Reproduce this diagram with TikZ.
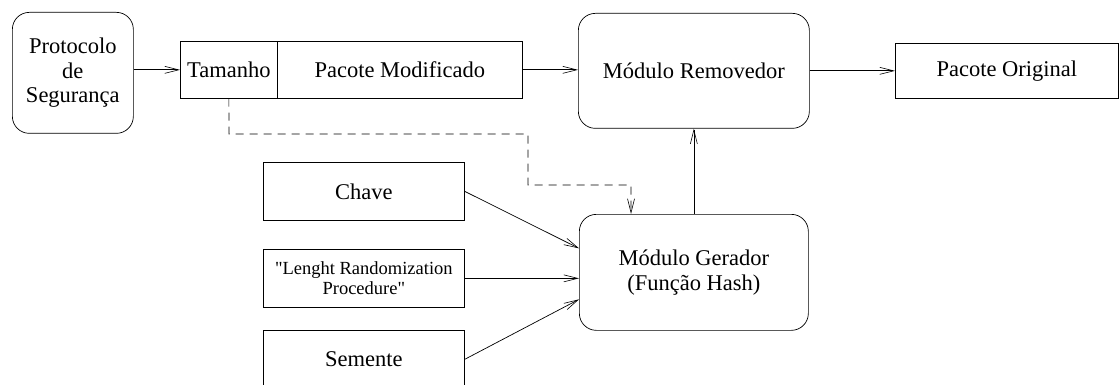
\documentclass[tikz,border=0pt]{standalone}
\usepackage{fontspec}
\setmainfont{Liberation Serif}[Ligatures=TeXOff]
\usetikzlibrary{arrows.meta,positioning,calc}
\tikzset{
  box/.style={draw, line width=0.7pt, inner sep=0pt, anchor=north west, align=center,
    font=\fontsize{22.5}{24.5}\selectfont},
  rbox/.style={box, rounded corners=17pt},
  arr/.style={line width=0.7pt, -{Straight Barb[length=14pt,width=7pt,line width=0.6pt]}},
  dasharr/.style={arr, dash pattern=on 8pt off 6pt},
}
\begin{document}
\begin{tikzpicture}[x=1pt,y=-1pt]
\useasboundingbox (0,0) rectangle (1119,385);
\clip (0,0) rectangle (1119,385);
\node[rbox, minimum width=121pt, minimum height=121pt] (prot) at (12,12) {Protocolo\\de\\Segurança};
\node[box, minimum width=97pt, minimum height=57pt] (tam) at (180,41) {Tamanho};
\node[box, minimum width=245pt, minimum height=57pt] (pm) at (277,41) {Pacote Modificado};
\node[rbox, minimum width=231pt, minimum height=115pt] (rem) at (578,13) {Módulo Removedor};
\node[box, minimum width=223pt, minimum height=55pt] (orig) at (895,43) {Pacote Original};
\node[box, minimum width=201pt, minimum height=58pt] (chave) at (263,162) {Chave};
\node[box, minimum width=201pt, minimum height=58pt, font=\fontsize{18.5}{20}\selectfont] (lrp) at (263,249) {"Lenght Randomization\\Procedure"};
\node[box, minimum width=201pt, minimum height=58pt] (sem) at (263,330) {Semente};
\node[rbox, minimum width=229pt, minimum height=116pt] (ger) at (579,214) {Módulo Gerador\\(Função Hash)};

\draw[arr] (prot.east |- tam.west) -- (tam.west);
\draw[arr] (pm.east) -- (pm.east -| rem.west);
\draw[arr] (rem.east) -- (rem.east -| orig.west);
\draw[arr] (ger.north) -- (rem.south);
\coordinate (d1) at (229,134);
\coordinate (d2) at (528,134);
\coordinate (d3) at (528,185);
\coordinate (d4) at (631,185);
\draw[dasharr] (tam.south) -- (d1) -- (d2) -- (d3) -- (d4) -- (d4 |- ger.north);
\draw[arr] (chave.east) -- ([yshift=24pt]ger.west);
\draw[arr] (lrp.east) -- (lrp.east -| ger.west);
\draw[arr] (sem.east) -- ([yshift=-27pt]ger.west);
\end{tikzpicture}
\end{document}
